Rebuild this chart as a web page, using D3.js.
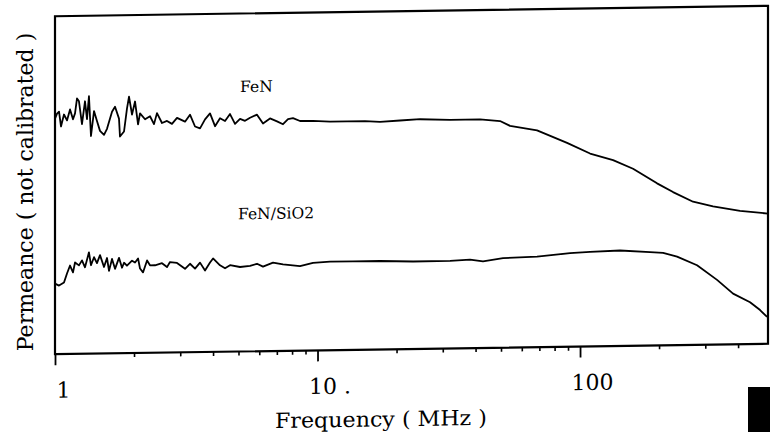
<!DOCTYPE html>
<html>
<head>
<meta charset="utf-8">
<script src="https://cdn.jsdelivr.net/npm/d3@7"></script>
<style>
  html, body { margin: 0; padding: 0; background: #fff; }
  svg { display: block; }
</style>
</head>
<body>
<svg id="chart" width="770" height="432"></svg>
<script>
// ---------- data (permeance in arbitrary, uncalibrated units) ----------
const freqFeN = [1.0,1.018,1.036,1.054,1.082,1.111,1.141,1.171,1.192,1.213,1.234,1.267,1.301,1.324,1.347,1.371,1.408,1.445,1.484,1.537,1.578,1.649,1.693,1.753,1.768,1.832,1.88,1.914,1.965,2.018,2.072,2.108,2.203,2.301,2.383,2.446,2.556,2.671,2.79,2.916,
  3.128,3.268,3.415,3.568,3.728,3.895,4.07,4.252,4.443,4.642,4.85,5.068,5.295,5.533,5.881,6.199,6.592,7.01,7.389,7.72,8.066,8.577,9.613,11.16,12.96,15.17,17.3,20.62,24.58,31.98,41.59,49.57,54.12,68.59,89.24,109.2,133.6,159.2,196.5,226.1,269.5,321.1,406.9,520];
const permFeN = [237,242,244,229,241,235,246,236,242,257,254,231,254,236,259,219,244,234,224,220,226,243,248,236,218,223,246,258,240,253,230,241,235,238,230,241,231,233,230,236,
  232,239,227,225,234,240,227,235,232,239,229,234,232,235,238,229,234,231,228,233,234,231,231,230,230,230,229,230,231,230,230,228,223,218,205,194,187,178,163,154,144,139,134,131];

const freqSiO2 = [1.0,1.036,1.082,1.111,1.141,1.171,1.192,1.234,1.267,1.301,1.347,1.371,1.408,1.445,1.484,1.537,1.578,1.606,1.649,1.693,1.753,1.8,1.832,1.88,1.965,2.018,2.072,2.108,2.164,2.242,2.301,2.404,2.556,2.671,2.742,2.916,
  3.128,3.268,3.415,3.568,3.728,3.895,4.0,4.252,4.443,4.642,5.068,5.533,5.881,6.199,6.768,7.389,8.577,9.613,11.16,13.65,17.3,23.11,31.98,38.1,42.7,50.9,68.59,91.6,109.2,142.0,184.8,207.2,234.2,279.1,332.6,382.8,444.3,485.1,515.8];
const permSiO2 = [71,69,72,81,89,82,92,89,94,87,102,89,97,91,99,87,96,83,95,85,96,86,91,88,93,91,95,85,81,93,88,88,90,86,91,90,
  84,89,84,90,82,90,94,87,84,87,85,86,88,85,89,87,85,88,89,89,89,88,88,89,87,90,91,94,95,96,94,93,89,80,65,51,42,34,27];

const seriesNames = ["FeN", "FeN/SiO2"];
const majorTicks = [1, 10, 100];
const majorTickLabels = ["1", "10 .", "100"];
const minorTicks = [2,3,4,5,6,7,8,9,20,30,40,50,60,70,80,90,200,300,400];
const xDomain = [1, 520];
const yDomain = [0, 340];
const xTitle = "Frequency ( MHz )";
const yTitle = "Permeance ( not calibrated )";

// ---------- layout ----------
const mLeft = 55, mRight = 768, mTop = 11, mBottom = 349;
const serif = "'DejaVu Serif', 'Liberation Serif', serif";

const svg = d3.select("#chart");
// the scanned figure is slightly sheared: horizontals rise to the right
const g = svg.append("g").attr("transform", "translate(411,0) skewY(-0.84) translate(-411,0)");

const x = d3.scaleLog().domain(xDomain).range([mLeft, mRight]);
const y = d3.scaleLinear().domain(yDomain).range([mBottom, mTop]);

// minor ticks
g.append("g")
  .attr("transform", `translate(0,${mBottom})`)
  .call(d3.axisBottom(x).tickValues(minorTicks).tickSize(4).tickFormat(""))
  .call(s => s.select(".domain").remove())
  .call(s => s.selectAll(".tick line").attr("stroke", "#000").attr("stroke-width", 1.6));

// major ticks + labels
g.append("g")
  .attr("transform", `translate(0,${mBottom})`)
  .call(d3.axisBottom(x).tickValues(majorTicks).tickSize(11).tickPadding(17)
        .tickFormat((d, i) => majorTickLabels[i]))
  .call(s => s.select(".domain").remove())
  .call(s => s.selectAll(".tick line").attr("stroke", "#000").attr("stroke-width", 1.8))
  .call(s => s.selectAll(".tick text")
        .attr("fill", "#000")
        .attr("font-family", serif)
        .attr("font-size", 22)
        .attr("dx", (d, i) => i === 0 ? 8 : 12));

// frame
g.append("rect")
  .attr("x", mLeft).attr("y", mTop)
  .attr("width", mRight - mLeft).attr("height", mBottom - mTop)
  .attr("fill", "none").attr("stroke", "#000").attr("stroke-width", 2.2);

// curves
const line = d3.line().x(d => x(d[0])).y(d => y(d[1]));
const seriesData = [
  d3.zip(freqFeN, permFeN),
  d3.zip(freqSiO2, permSiO2)
];
g.selectAll("path.curve").data(seriesData).join("path")
  .attr("class", "curve")
  .attr("d", line)
  .attr("fill", "none")
  .attr("stroke", "#000")
  .attr("stroke-width", 1.8)
  .attr("stroke-linejoin", "round");

// series labels (anchored at frequency / permeance positions)
const labelPos = [[5.07, 261], [4.98, 133]];
g.selectAll("text.series").data(seriesNames).join("text")
  .attr("class", "series")
  .attr("x", (d, i) => x(labelPos[i][0]))
  .attr("y", (d, i) => y(labelPos[i][1]))
  .attr("font-family", serif)
  .attr("font-size", 15.5)
  .attr("fill", "#000")
  .text(d => d);

// axis titles
g.append("text")
  .attr("x", 381).attr("y", 426)
  .attr("text-anchor", "middle")
  .attr("font-family", serif)
  .attr("font-size", 21)
  .attr("textLength", 212)
  .attr("lengthAdjust", "spacingAndGlyphs")
  .attr("fill", "#000")
  .text(xTitle);

svg.append("text")
  .attr("transform", "translate(33,192) rotate(-90)")
  .attr("text-anchor", "middle")
  .attr("font-family", serif)
  .attr("font-size", 22)
  .attr("fill", "#000")
  .text(yTitle);

// scan artefact: black bar at lower right
svg.append("rect")
  .attr("x", 748).attr("y", 387).attr("width", 22).attr("height", 45)
  .attr("fill", "#000");
</script>
</body>
</html>
